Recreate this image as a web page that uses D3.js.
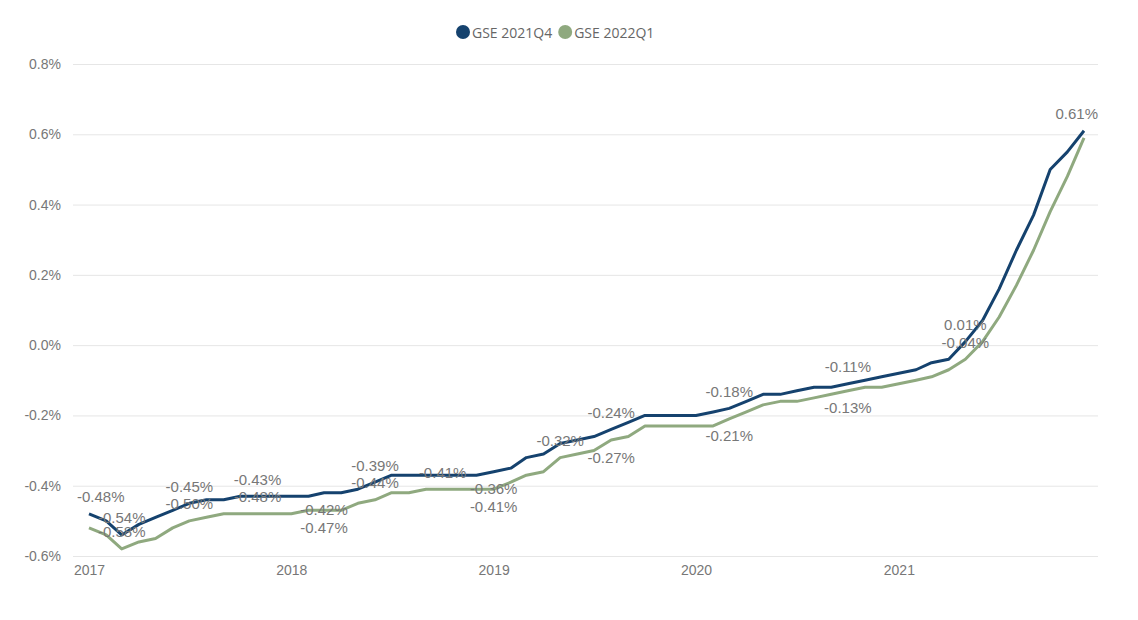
<!DOCTYPE html>
<html>
<head>
<meta charset="utf-8">
<script src="https://cdn.jsdelivr.net/npm/d3@7"></script>
<style>
  body { margin: 0; background: #fff; }
  .tick text { font-family: "Liberation Sans", Arial, sans-serif; font-size: 14px; fill: #777; }
  .grid line { stroke: #e6e6e6; }
  .grid path, .axis path, .axis line { display: none; }
  .lbl { font-family: "Liberation Sans", Arial, sans-serif; font-size: 15px; fill: #777; }
  .legend text { font-family: "Open Sans", "Noto Sans", sans-serif; font-size: 14px; fill: #666; }
</style>
</head>
<body>
<div id="chart"></div>
<script>
const seriesNames = ["GSE 2021Q4", "GSE 2022Q1"];
const seriesColors = ["#15426e", "#8fa97f"];

// monthly, Jan 2017 .. Dec 2021
const months = d3.timeMonth.range(new Date(2017, 0, 1), new Date(2022, 0, 1));

const gse2021Q4 = [
  -0.48, -0.50, -0.54, -0.51, -0.49, -0.47, -0.45, -0.44, -0.44, -0.43, -0.43, -0.43,
  -0.43, -0.43, -0.42, -0.42, -0.41, -0.39, -0.37, -0.37, -0.37, -0.37, -0.37, -0.37,
  -0.36, -0.35, -0.32, -0.31, -0.28, -0.27, -0.26, -0.24, -0.22, -0.20, -0.20, -0.20,
  -0.20, -0.19, -0.18, -0.16, -0.14, -0.14, -0.13, -0.12, -0.12, -0.11, -0.10, -0.09,
  -0.08, -0.07, -0.05, -0.04, 0.01, 0.07, 0.16, 0.27, 0.37, 0.50, 0.55, 0.61
];
const gse2022Q1 = [
  -0.52, -0.54, -0.58, -0.56, -0.55, -0.52, -0.50, -0.49, -0.48, -0.48, -0.48, -0.48,
  -0.48, -0.47, -0.47, -0.47, -0.45, -0.44, -0.42, -0.42, -0.41, -0.41, -0.41, -0.41,
  -0.41, -0.39, -0.37, -0.36, -0.32, -0.31, -0.30, -0.27, -0.26, -0.23, -0.23, -0.23,
  -0.23, -0.23, -0.21, -0.19, -0.17, -0.16, -0.16, -0.15, -0.14, -0.13, -0.12, -0.12,
  -0.11, -0.10, -0.09, -0.07, -0.04, 0.01, 0.08, 0.17, 0.27, 0.38, 0.48, 0.59
];

const yTicks = [-0.6, -0.4, -0.2, 0, 0.2, 0.4, 0.6, 0.8];

// data labels shown: point index and side (1 = above, -1 = below)
const labels2021Q4 = [[0, 1], [2, 1], [6, 1], [10, 1], [14, -1], [17, 1], [24, -1], [31, 1], [38, 1], [45, 1], [52, 1], [59, 1]];
const labels2022Q1 = [[2, 1], [6, 1], [10, 1], [14, -1], [17, 1], [21, 1], [24, -1], [28, 1], [31, -1], [38, -1], [45, -1], [52, 1]];

const W = 1138, H = 620;
const plotLeft = 73, plotRight = 1098;

// plain hyphen for negatives, like the original
const loc = d3.formatLocale({decimal: ".", thousands: ",", grouping: [3], currency: ["", ""], minus: "-"});
const fmtTick = loc.format(".1f");
const fmtLbl = loc.format(".2f");

const svg = d3.select("#chart").append("svg")
    .attr("width", W)
    .attr("height", H);

const x = d3.scaleTime()
    .domain([months[0], months[months.length - 1]])
    .range([89, 1084]);
const y = d3.scaleLinear().domain([-0.6, 0.8]).range([556, 64]);

// gridlines
svg.append("g")
    .attr("class", "grid")
    .attr("transform", `translate(${plotLeft},0)`)
    .call(d3.axisLeft(y).tickValues(yTicks).tickSize(-(plotRight - plotLeft)).tickFormat(""));

// y axis labels
svg.append("g")
    .attr("class", "axis")
    .attr("transform", `translate(${plotLeft},0)`)
    .call(d3.axisLeft(y).tickValues(yTicks).tickSize(0).tickPadding(12)
        .tickFormat(d => fmtTick(d) + "%"));

// x axis labels
svg.append("g")
    .attr("class", "axis")
    .attr("transform", "translate(0,562)")
    .call(d3.axisBottom(x).ticks(d3.timeYear.every(1)).tickSize(0).tickPadding(3)
        .tickFormat(d3.timeFormat("%Y")));

const series = [gse2021Q4, gse2022Q1];
const labelSets = [labels2021Q4, labels2022Q1];

const line = d3.line()
    .x((d, i) => x(months[i]))
    .y(d => y(d));

// green first so blue sits on top
[1, 0].forEach(s => {
    svg.append("path")
        .datum(series[s])
        .attr("fill", "none")
        .attr("stroke", seriesColors[s])
        .attr("stroke-width", 3)
        .attr("stroke-linejoin", "round")
        .attr("d", line);
});

// data labels
const lblG = svg.append("g");
labelSets.forEach((set, s) => {
    set.forEach(([i, side]) => {
        const v = series[s][i];
        const t = lblG.append("text")
            .attr("class", "lbl")
            .attr("text-anchor", "middle")
            .attr("dominant-baseline", "central")
            .attr("y", y(v) - side * 17)
            .text(fmtLbl(v) + "%");
        const w = t.node().getComputedTextLength();
        let cx = x(months[i]);
        cx = Math.max(plotLeft + w / 2 + 4, Math.min(plotRight - w / 2, cx));
        t.attr("x", cx);
    });
});

// legend
const legend = svg.append("g").attr("class", "legend");
let lx = 463;
seriesNames.forEach((name, s) => {
    legend.append("circle")
        .attr("cx", lx)
        .attr("cy", 32)
        .attr("r", 7)
        .attr("fill", seriesColors[s]);
    const t = legend.append("text")
        .attr("x", lx + 9)
        .attr("y", 32)
        .attr("dominant-baseline", "central")
        .text(name);
    lx += 9 + t.node().getComputedTextLength() + 13;
});
</script>
</body>
</html>
